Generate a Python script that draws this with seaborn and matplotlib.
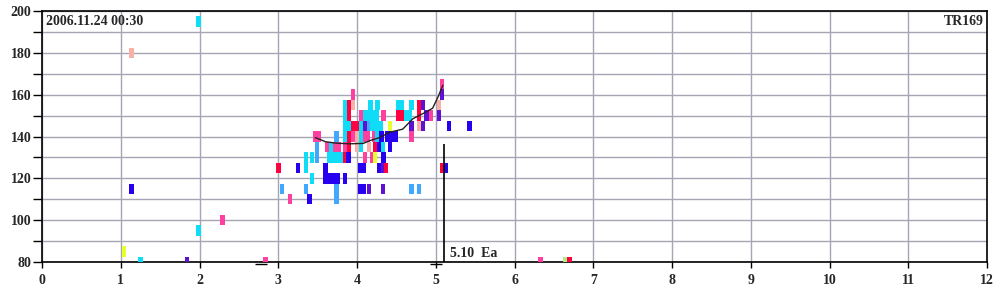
import numpy as np
import pandas as pd
import matplotlib
matplotlib.use('Agg')
import matplotlib.pyplot as plt
import seaborn as sns
from matplotlib.path import Path

# ---------------- data ----------------
colors = {
    'red': '#ff0040', 'pink': '#ff40a0', 'salmon': '#f8b0a8', 'cyan': '#10dcf8',
    'lightblue': '#40a8ff', 'blue': '#2800f0', 'purple': '#6010d0',
    'yellow': '#e8ff30', 'green': '#a8f080',
}

pts_x = [
    1.99, 1.14, 1.14, 1.04, 1.25, 1.99, 2.29, 1.84, 2.84,
    3.00, 3.25, 3.05, 3.15, 3.40,
    # y=160/165
    3.95, 5.08, 5.08,
    # y=155
    3.85, 3.90, 3.95, 4.17, 4.26, 4.52, 4.57, 4.69, 4.79, 4.84, 5.04,
    # y=150
    3.85, 3.90, 4.05, 4.10, 4.15, 4.20, 4.25, 4.34, 4.52, 4.57, 4.62, 4.67, 4.79, 4.88, 4.94, 5.04,
    # y=145
    3.85, 3.90, 3.95, 4.00, 4.05, 4.10, 4.15, 4.20, 4.25, 4.30, 4.42, 4.69, 4.79, 4.84, 5.17, 5.43,
    # y=140
    3.47, 3.52, 3.74, 3.85, 3.90, 3.95, 4.00, 4.05, 4.10, 4.14, 4.22, 4.26, 4.31, 4.39, 4.44, 4.49, 4.69,
    # y=135
    3.49, 3.62, 3.67, 3.72, 3.77, 3.85, 3.90, 4.00, 4.05, 4.15, 4.23, 4.28, 4.33, 4.42,
    # y=130
    3.35, 3.43, 3.49, 3.65, 3.70, 3.75, 3.79, 3.85, 3.89, 4.10, 4.19, 4.23, 4.34,
    # y=125
    3.35, 3.60, 4.04, 4.09, 4.28, 4.33, 4.37, 5.08, 5.13,
    # y=120
    3.43, 3.60, 3.65, 3.70, 3.75, 3.85,
    # y=115
    3.35, 3.74, 4.04, 4.09, 4.15, 4.33, 4.69, 4.79,
    # y=110
    3.74,
    # y=80
    6.33, 6.65, 6.70,
]
pts_y = [
    195, 180, 115, 85, 80, 95, 100, 80, 80,
    125, 125, 115, 110, 110,
    160, 165, 160,
    155, 155, 155, 155, 155, 155, 155, 155, 155, 155, 155,
    150, 150, 150, 150, 150, 150, 150, 150, 150, 150, 150, 150, 150, 150, 150, 150,
    145, 145, 145, 145, 145, 145, 145, 145, 145, 145, 145, 145, 145, 145, 145, 145,
    140, 140, 140, 140, 140, 140, 140, 140, 140, 140, 140, 140, 140, 140, 140, 140, 140,
    135, 135, 135, 135, 135, 135, 135, 135, 135, 135, 135, 135, 135, 135,
    130, 130, 130, 130, 130, 130, 130, 130, 130, 130, 130, 130, 130,
    125, 125, 125, 125, 125, 125, 125, 125, 125,
    120, 120, 120, 120, 120, 120,
    115, 115, 115, 115, 115, 115, 115, 115,
    110,
    80, 80, 80,
]
pts_c = [
    'cyan', 'salmon', 'blue', 'yellow', 'cyan', 'cyan', 'pink', 'purple', 'pink',
    'red', 'blue', 'lightblue', 'pink', 'blue',
    'pink', 'pink', 'purple',
    'cyan', 'red', 'salmon', 'cyan', 'cyan', 'cyan', 'cyan', 'cyan', 'red', 'purple', 'salmon',
    'cyan', 'red', 'pink', 'cyan', 'cyan', 'cyan', 'cyan', 'pink', 'red', 'red', 'cyan', 'cyan', 'red', 'purple', 'pink', 'purple',
    'cyan', 'cyan', 'red', 'red', 'cyan', 'purple', 'lightblue', 'cyan', 'cyan', 'cyan', 'yellow', 'purple', 'salmon', 'purple', 'blue', 'blue',
    'pink', 'pink', 'lightblue', 'cyan', 'red', 'pink', 'salmon', 'cyan', 'pink', 'pink', 'pink', 'cyan', 'blue', 'blue', 'blue', 'blue', 'pink',
    'lightblue', 'pink', 'cyan', 'pink', 'pink', 'pink', 'red', 'salmon', 'cyan', 'salmon', 'red', 'blue', 'cyan', 'blue',
    'cyan', 'cyan', 'lightblue', 'cyan', 'cyan', 'cyan', 'cyan', 'red', 'blue', 'pink', 'pink', 'yellow', 'blue',
    'cyan', 'blue', 'blue', 'blue', 'blue', 'purple', 'red', 'red', 'blue',
    'cyan', 'blue', 'blue', 'blue', 'blue', 'blue',
    'lightblue', 'lightblue', 'blue', 'blue', 'purple', 'purple', 'lightblue', 'lightblue',
    'lightblue',
    'pink', 'green', 'red',
]

curve_x = [3.47, 3.60, 3.74, 3.90, 4.08, 4.16, 4.29, 4.41, 4.58, 4.71, 4.84, 4.96, 5.03, 5.09]
curve_y = [139.5, 137.5, 136.8, 136.5, 136.7, 138.0, 139.5, 142.0, 143.5, 148.5, 151.0, 153.5, 159.0, 164.5]

event_x = [5.11]
event_y0 = [80]
event_y1 = [136.5]
event_label = '5.10  Ea'

dash_x = [2.78, 5.0]

title_left = '2006.11.24 00:30'
title_right = 'TR169'

x_ticks = list(range(0, 13))
y_ticks = list(range(80, 201, 20))
y_minor = list(range(90, 200, 20))

# ---------------- plot ----------------
sns.set_theme(style='white')
plt.rcParams['font.family'] = ['Liberation Serif', 'DejaVu Serif']

fig = plt.figure(figsize=(10, 3), dpi=100)
ax = fig.add_axes([0.042, 0.1267, 0.945, 0.8366])

df = pd.DataFrame({'x': pts_x, 'y': pts_y, 'c': pts_c})
marker = Path([(-0.22, -0.5), (0.22, -0.5), (0.22, 0.5), (-0.22, 0.5), (-0.22, -0.5)],
              [Path.MOVETO, Path.LINETO, Path.LINETO, Path.LINETO, Path.CLOSEPOLY])
sns.scatterplot(data=df, x='x', y='y', hue='c', palette=colors, marker=marker,
                s=56, linewidth=0, legend=False, ax=ax, zorder=3)

sns.lineplot(x=curve_x, y=curve_y, sort=False, color='#222222', lw=1.0, ax=ax, zorder=4)
ax.vlines(event_x, event_y0, event_y1, color='black', lw=1.2, zorder=4)
ax.text(event_x[0] + 0.07, 80.8, event_label, fontsize=10, fontweight='bold',
        ha='left', va='bottom', zorder=5)
ax.plot(dash_x, [78.8] * len(dash_x), ls='none', marker='_', ms=8, mew=1.0,
        color='black', clip_on=False, zorder=5)

ax.set_xlim(0, 12)
ax.set_ylim(80, 200)
ax.set_xticks(x_ticks)
ax.set_yticks(y_ticks)
ax.set_yticks(y_minor, minor=True)
ax.grid(which='both', color='#a4a6b6', lw=1.0)
ax.set_axisbelow(True)
ax.tick_params(axis='y', which='both', direction='out', length=6.5, width=1,
               color='black', left=True, pad=1)
ax.tick_params(axis='x', which='major', direction='out', length=4, width=1,
               color='black', bottom=True, pad=5)
for lab in ax.get_xticklabels() + ax.get_yticklabels():
    lab.set_fontweight('bold')
    lab.set_fontsize(10)
ax.set_xlabel('')
ax.set_ylabel('')
for sp in ax.spines.values():
    sp.set_color('black')
    sp.set_linewidth(1.2)

ax.text(0.004, 0.985, title_left, transform=ax.transAxes, fontsize=10,
        fontweight='bold', ha='left', va='top')
ax.text(0.997, 0.985, title_right, transform=ax.transAxes, fontsize=10,
        fontweight='bold', ha='right', va='top')

fig.savefig('out.png', dpi=100, facecolor='white')
